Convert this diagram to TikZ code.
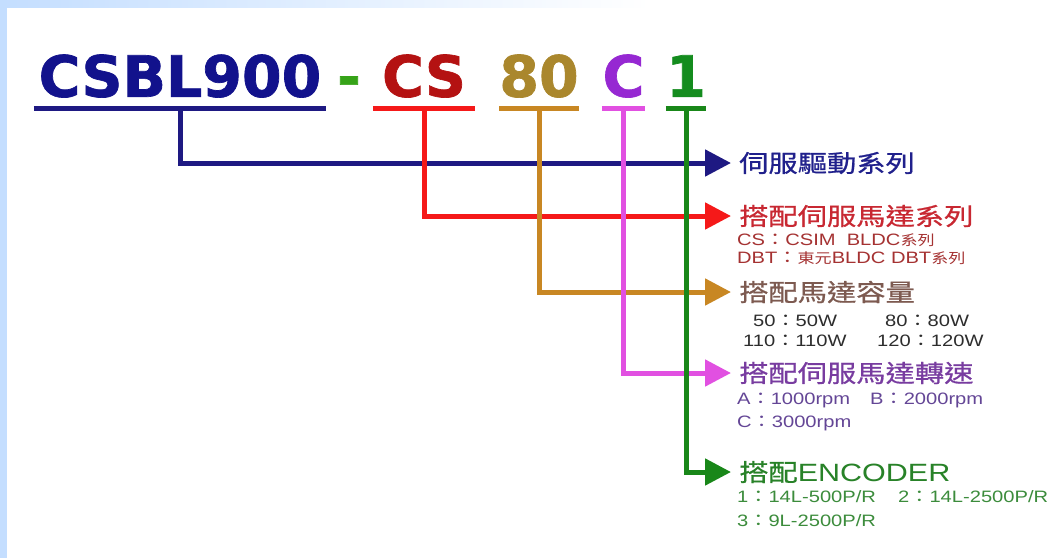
\documentclass[tikz,border=0pt]{standalone}
\usepackage{fontspec}
\setmainfont[FakeStretch=1.22]{Liberation Sans}
\newfontfamily\cjk[FakeStretch=1.22]{Noto Sans CJK TC}
\newfontfamily\cjkgras[FakeStretch=1.22,FakeBold=0.8]{Noto Sans CJK TC}
\newfontfamily\titre[BoldFeatures={FakeBold=1.2}]{DejaVu Sans}
\usetikzlibrary{arrows.meta}

% couleurs
\definecolor{fond}{RGB}{196,222,255}
\definecolor{tnavy}{RGB}{18,18,140}
\definecolor{tred}{RGB}{180,18,18}
\definecolor{tgold}{RGB}{170,135,45}
\definecolor{tpurple}{RGB}{150,40,210}
\definecolor{tgreen}{RGB}{20,140,30}
\definecolor{lnavy}{RGB}{30,25,130}
\definecolor{lred}{RGB}{245,25,25}
\definecolor{lgold}{RGB}{200,135,35}
\definecolor{lpurple}{RGB}{225,80,225}
\definecolor{lgreen}{RGB}{25,135,25}
\definecolor{hnavy}{RGB}{32,32,140}
\definecolor{hred}{RGB}{200,40,50}
\definecolor{sred}{RGB}{165,50,50}
\definecolor{hbrown}{RGB}{125,90,80}
\definecolor{sgray}{RGB}{45,45,45}
\definecolor{hpurple}{RGB}{120,60,160}
\definecolor{spurple}{RGB}{100,70,150}
\definecolor{hgreen}{RGB}{40,130,40}
\definecolor{sgreen}{RGB}{60,140,60}

\begin{document}
\begin{tikzpicture}[x=1pt, y=-1pt,
    titre/.style={anchor=south, inner xsep=0pt, inner ysep=11pt, text depth=0pt, font=\titre\bfseries\fontsize{57}{57}\selectfont},
    souligne/.style={line width=5pt},
    fleche/.style={line width=5pt, -{Triangle[length=26pt,width=26pt]}},
    entete/.style={anchor=west, inner xsep=8pt, inner ysep=0pt, font=\fontsize{24}{24}\selectfont},
    detail/.style={anchor=base west, inner sep=0pt, font=\fontsize{16.5}{16.5}\selectfont}]
    \useasboundingbox (0,0) rectangle (1051,558);
    % fond
    \fill[white] (0,0) rectangle (1051,558);
    \shade[left color=fond, right color=white] (0,0) rectangle (650,7);
    \fill[fond] (0,0) rectangle (7,558);

    % code produit
    \node[titre, text=tnavy, minimum width=292pt] (cbase) at (180,108) {CSBL900};
    \node[titre, text=tgreen!80!lime, anchor=base, inner ysep=0pt] (tiret) at (349,97) {-};
    \node[titre, text=tred, minimum width=102pt] (cserie) at (424,108) {CS};
    \node[titre, text=tgold, minimum width=78pt] (cpuiss) at (539,108) {80};
    \node[titre, text=tpurple, minimum width=43pt] (cvit) at (623.5,108) {C};
    \node[titre, text=tgreen, minimum width=37pt] (cenc) at (686,108) {1};

    % intitules
    \node[entete, text=hnavy] (hbase) at (731,163) {\cjkgras 伺服驅動系列};
    \node[entete, text=hred] (hserie) at (731,216) {\cjkgras 搭配伺服馬達系列};
    \node[entete, text=hbrown] (hpuiss) at (731,292) {\cjkgras 搭配馬達容量};
    \node[entete, text=hpurple] (hvit) at (731,373) {\cjkgras 搭配伺服馬達轉速};
    \node[entete, text=hgreen] (henc) at (731,472) {{\cjkgras 搭配}\fontsize{25}{25}\selectfont ENCODER};

    % details
    \node[detail, text=sred] (sCS) at (737,245) {CS{\cjk ：}CSIM\ \ BLDC{\cjk\fontsize{14}{14}\selectfont 系列}};
    \node[detail, text=sred] (sDBT) at (737,263) {DBT{\cjk ：}{\cjk\fontsize{14}{14}\selectfont 東元}BLDC DBT{\cjk\fontsize{14}{14}\selectfont 系列}};
    \node[detail, text=sgray] (p50) at (753,326) {50{\cjk ：}50W};
    \node[detail, text=sgray] (p80) at (885,326) {80{\cjk ：}80W};
    \node[detail, text=sgray] (p110) at (743,346) {110{\cjk ：}110W};
    \node[detail, text=sgray] (p120) at (877,346) {120{\cjk ：}120W};
    \node[detail, text=spurple] (vA) at (737,404) {A{\cjk ：}1000rpm};
    \node[detail, text=spurple] (vB) at (870,404) {B{\cjk ：}2000rpm};
    \node[detail, text=spurple] (vC) at (737,427) {C{\cjk ：}3000rpm};
    \node[detail, text=sgreen] (e1) at (737,502) {1{\cjk ：}14L-500P/R};
    \node[detail, text=sgreen] (e2) at (898,502) {2{\cjk ：}14L-2500P/R};
    \node[detail, text=sgreen] (e3) at (737,526) {3{\cjk ：}9L-2500P/R};

    % soulignes et fleches
    \draw[souligne, lnavy] (cbase.south west) -- (cbase.south east);
    \draw[fleche, lnavy] (cbase.south) |- (hbase.west);
    \draw[souligne, lred] (cserie.south west) -- (cserie.south east);
    \draw[fleche, lred] (cserie.south) |- (hserie.west);
    \draw[souligne, lgold] (cpuiss.south west) -- (cpuiss.south east);
    \draw[fleche, lgold] (cpuiss.south) |- (hpuiss.west);
    \draw[souligne, lpurple] (cvit.south west) -- (cvit.south east);
    \draw[fleche, lpurple] (cvit.south) |- (hvit.west);
    \draw[souligne, lgreen] (cenc.south west) -- (cenc.south east);
    \draw[fleche, lgreen] (cenc.south) |- (henc.west);
\end{tikzpicture}
\end{document}
